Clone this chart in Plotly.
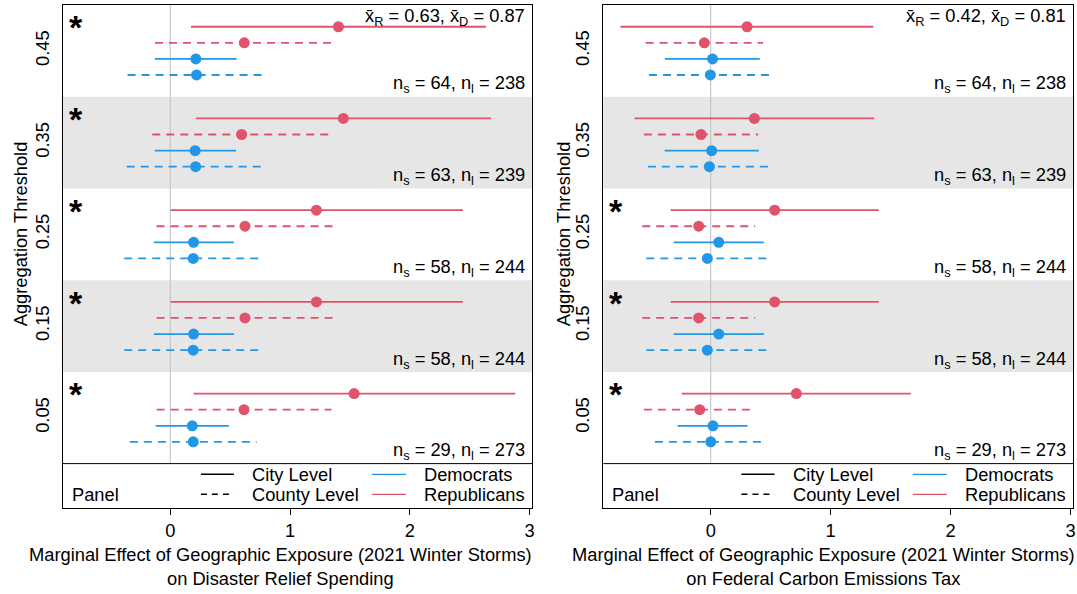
import plotly.graph_objects as go

# ---------------- data ----------------
thresholds = ["0.05", "0.15", "0.25", "0.35", "0.45"]

# Left panel: Disaster Relief Spending
relief_rep_city_est = [1.535, 1.220, 1.220, 1.445, 1.404]
relief_rep_city_lo = [0.195, 0.003, 0.003, 0.215, 0.173]
relief_rep_city_hi = [2.880, 2.443, 2.443, 2.677, 2.635]
relief_rep_county_est = [0.616, 0.624, 0.624, 0.596, 0.618]
relief_rep_county_lo = [-0.114, -0.114, -0.114, -0.150, -0.127]
relief_rep_county_hi = [1.346, 1.362, 1.362, 1.342, 1.363]
relief_dem_city_est = [0.184, 0.195, 0.195, 0.208, 0.214]
relief_dem_city_lo = [-0.122, -0.136, -0.136, -0.128, -0.128]
relief_dem_city_hi = [0.490, 0.532, 0.532, 0.549, 0.555]
relief_dem_county_est = [0.192, 0.192, 0.192, 0.212, 0.220]
relief_dem_county_lo = [-0.337, -0.384, -0.384, -0.364, -0.356]
relief_dem_county_hi = [0.721, 0.768, 0.768, 0.788, 0.796]

# Right panel: Federal Carbon Emissions Tax
carbon_rep_city_est = [0.714, 0.533, 0.533, 0.364, 0.303]
carbon_rep_city_lo = [-0.242, -0.334, -0.334, -0.635, -0.752]
carbon_rep_city_hi = [1.668, 1.401, 1.401, 1.364, 1.356]
carbon_rep_county_est = [-0.092, -0.100, -0.100, -0.081, -0.053]
carbon_rep_county_lo = [-0.557, -0.571, -0.571, -0.557, -0.543]
carbon_rep_county_hi = [0.373, 0.371, 0.371, 0.395, 0.437]
carbon_dem_city_est = [0.019, 0.067, 0.067, 0.008, 0.015]
carbon_dem_city_lo = [-0.276, -0.309, -0.309, -0.384, -0.382]
carbon_dem_city_hi = [0.307, 0.443, 0.443, 0.401, 0.409]
carbon_dem_county_est = [0.000, -0.028, -0.028, -0.011, -0.003]
carbon_dem_county_lo = [-0.465, -0.537, -0.537, -0.524, -0.515]
carbon_dem_county_hi = [0.465, 0.481, 0.481, 0.502, 0.509]

n_s = [29, 58, 58, 63, 64]
n_l = [273, 244, 244, 239, 238]

relief_mean_R, relief_mean_D = 0.63, 0.87
carbon_mean_R, carbon_mean_D = 0.42, 0.81

relief_star = [True, True, True, True, True]
carbon_star = [True, True, True, False, False]

relief_xlabel = "Marginal Effect of Geographic Exposure (2021 Winter Storms)<br>on Disaster Relief Spending"
carbon_xlabel = "Marginal Effect of Geographic Exposure (2021 Winter Storms)<br>on Federal Carbon Emissions Tax"

# ---------------- style ----------------
FONT = "Liberation Sans, Arial, sans-serif"
FS = 18.3
RED = "#DF536B"
BLUE = "#2297E6"
BAND = "#E6E6E6"
XR = [-0.895, 3.02]
YR = [-0.484, 5.0]
ROW = {"rep_city": 0.763, "rep_county": 0.588, "dem_city": 0.412, "dem_county": 0.237}
DASH = "8px,6px"

fig = go.Figure()

panels = [
    dict(xa="x", ya="y", xname="xaxis", yname="yaxis", domain=[0, 0.4644],
         series=[
             ("rep_city", RED, "solid", relief_rep_city_est, relief_rep_city_lo, relief_rep_city_hi),
             ("rep_county", RED, DASH, relief_rep_county_est, relief_rep_county_lo, relief_rep_county_hi),
             ("dem_city", BLUE, "solid", relief_dem_city_est, relief_dem_city_lo, relief_dem_city_hi),
             ("dem_county", BLUE, DASH, relief_dem_county_est, relief_dem_county_lo, relief_dem_county_hi),
         ],
         mR=relief_mean_R, mD=relief_mean_D, star=relief_star, xlabel=relief_xlabel,
         xlab_px=280, ytitle_px=20),
    dict(xa="x2", ya="y2", xname="xaxis2", yname="yaxis2", domain=[0.535, 1.0],
         series=[
             ("rep_city", RED, "solid", carbon_rep_city_est, carbon_rep_city_lo, carbon_rep_city_hi),
             ("rep_county", RED, DASH, carbon_rep_county_est, carbon_rep_county_lo, carbon_rep_county_hi),
             ("dem_city", BLUE, "solid", carbon_dem_city_est, carbon_dem_city_lo, carbon_dem_city_hi),
             ("dem_county", BLUE, DASH, carbon_dem_county_est, carbon_dem_county_lo, carbon_dem_county_hi),
         ],
         mR=carbon_mean_R, mD=carbon_mean_D, star=carbon_star, xlabel=carbon_xlabel,
         xlab_px=823, ytitle_px=563),
]

W, H = 1077, 594
ML, MR, MT, MB = 63, 4, 5, 86
PW = W - ML - MR
PH = H - MT - MB

shapes = []
annotations = []

for p in panels:
    xa, ya = p["xa"], p["ya"]
    # shaded bands
    for k in range(len(thresholds)):
        if k % 2 == 1:
            shapes.append(dict(type="rect", xref=xa + " domain", yref=ya, x0=0, x1=1,
                               y0=k, y1=k + 1, fillcolor=BAND, line=dict(width=0), layer="below"))
    # zero line
    shapes.append(dict(type="line", xref=xa, yref=ya, x0=0, x1=0, y0=0, y1=len(thresholds),
                       line=dict(color="#BEBEBE", width=1), layer="below"))
    # legend separator
    shapes.append(dict(type="line", xref=xa + " domain", yref=ya, x0=0, x1=1, y0=0, y1=0,
                       line=dict(color="black", width=1)))

    for key, col, dash, est, lo, hi in p["series"]:
        lx, ly = [], []
        for k in range(len(thresholds)):
            yk = k + ROW[key]
            lx += [lo[k], hi[k], None]
            ly += [yk, yk, None]
        fig.add_trace(go.Scatter(x=lx, y=ly, mode="lines", xaxis=xa, yaxis=ya,
                                 line=dict(color=col, width=1.8, dash=dash),
                                 showlegend=False, hoverinfo="skip"))
        fig.add_trace(go.Scatter(x=est, y=[k + ROW[key] for k in range(len(thresholds))],
                                 mode="markers", xaxis=xa, yaxis=ya,
                                 marker=dict(color=col, size=11, line=dict(width=0)),
                                 showlegend=False))

    # per-band annotations
    for k in range(len(thresholds)):
        annotations.append(dict(xref=xa, yref=ya, x=2.975, y=k + 0.135,
                                text="n<sub>s</sub> = %d, n<sub>l</sub> = %d" % (n_s[k], n_l[k]),
                                showarrow=False, xanchor="right", yanchor="middle",
                                font=dict(size=FS, family=FONT, color="black")))
        if p["star"][k]:
            annotations.append(dict(xref=xa, yref=ya, x=-0.788, y=k + 1 - 0.245,
                                    text="<b>*</b>", showarrow=False, xanchor="center",
                                    yanchor="middle",
                                    font=dict(size=34, family=FONT, color="black")))
    annotations.append(dict(xref=xa, yref=ya, x=2.975, y=4.865,
                            text="x\u0304<sub>R</sub> = %.2f, x\u0304<sub>D</sub> = %.2f" % (p["mR"], p["mD"]),
                            showarrow=False, xanchor="right", yanchor="middle",
                            font=dict(size=FS, family=FONT, color="black")))

    # legend inside panel
    shapes.append(dict(type="line", xref=xa, yref=ya, x0=0.256, x1=0.532, y0=-0.117, y1=-0.117,
                       line=dict(color="black", width=1.5)))
    shapes.append(dict(type="line", xref=xa, yref=ya, x0=0.256, x1=0.532, y0=-0.335, y1=-0.335,
                       line=dict(color="black", width=1.5, dash="6px,5px")))
    shapes.append(dict(type="line", xref=xa, yref=ya, x0=1.684, x1=1.967, y0=-0.117, y1=-0.117,
                       line=dict(color=BLUE, width=1.2)))
    shapes.append(dict(type="line", xref=xa, yref=ya, x0=1.684, x1=1.967, y0=-0.335, y1=-0.335,
                       line=dict(color=RED, width=1.2)))
    for txt, lx, lyy in [("City Level", 0.667, -0.117), ("County Level", 0.667, -0.335),
                         ("Democrats", 2.100, -0.117), ("Republicans", 2.100, -0.335),
                         ("Panel", -0.838, -0.335)]:
        annotations.append(dict(xref=xa, yref=ya, x=lx, y=lyy, text=txt, showarrow=False,
                                xanchor="left", yanchor="middle",
                                font=dict(size=FS, family=FONT, color="black")))

    # y title
    annotations.append(dict(xref="paper", yref=ya, x=(p["ytitle_px"] - ML) / PW, y=2.5,
                            text="Aggregation Threshold", textangle=-90, showarrow=False,
                            xanchor="center", yanchor="middle",
                            font=dict(size=FS, family=FONT, color="black")))
    # x title
    annotations.append(dict(xref="paper", yref="paper", x=(p["xlab_px"] - ML) / PW,
                            y=(H - MB - 566) / PH, text=p["xlabel"], showarrow=False,
                            xanchor="center", yanchor="middle", align="center",
                            font=dict(size=FS, family=FONT, color="black")))

    fig.update_layout(**{
        p["xname"]: dict(domain=p["domain"], range=XR, anchor=ya, tickvals=[0, 1, 2, 3],
                         ticks="outside", ticklen=6, tickcolor="black", tickwidth=1,
                         showline=True, mirror=True, linecolor="black", linewidth=1,
                         showgrid=False, zeroline=False, automargin=False,
                         tickfont=dict(size=FS, family=FONT, color="black")),
        p["yname"]: dict(domain=[0, 1], range=YR, anchor=xa,
                         tickvals=[k + 0.5 for k in range(len(thresholds))], ticktext=thresholds,
                         tickangle=-90, ticks="outside", ticklen=6, tickcolor="rgba(0,0,0,0)",
                         showline=True, mirror=True, linecolor="black", linewidth=1,
                         showgrid=False, zeroline=False, automargin=False,
                         tickfont=dict(size=FS, family=FONT, color="black")),
    })

fig.update_layout(width=W, height=H, margin=dict(l=ML, r=MR, t=MT, b=MB, autoexpand=False),
                  plot_bgcolor="white", paper_bgcolor="white",
                  shapes=shapes, annotations=annotations, showlegend=False,
                  font=dict(family=FONT, size=FS, color="black"))

fig.write_html("out.html", config={"displayModeBar": False},
               post_script="document.body.style.margin='0';")
